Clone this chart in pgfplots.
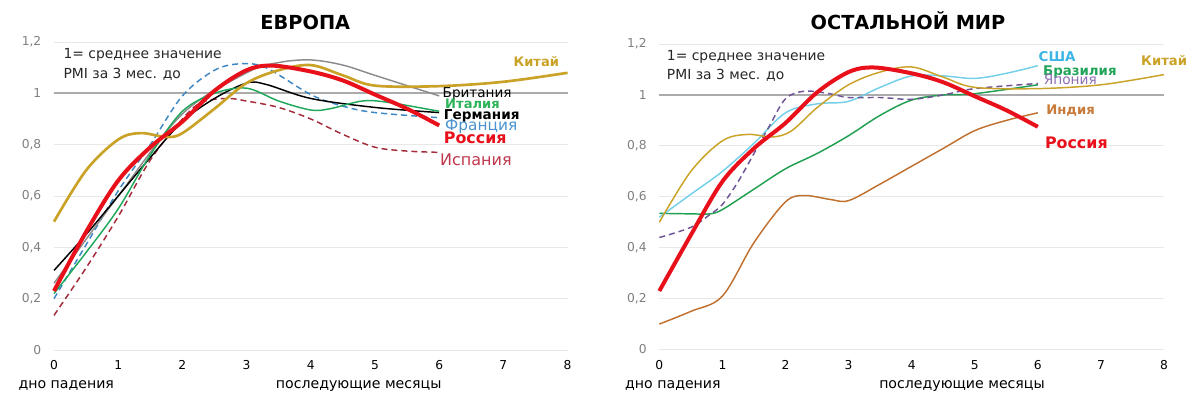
\documentclass[border=0pt]{standalone}
\usepackage{fontspec}
\setmainfont{DejaVu Sans}
\usepackage{pgfplots}
\pgfplotsset{compat=1.18}
\definecolor{gold}{HTML}{C9A227}
\definecolor{brit}{HTML}{8C8C8C}
\definecolor{italyc}{HTML}{1FA85A}
\definecolor{italyl}{HTML}{2DB35A}
\definecolor{francec}{HTML}{3C87C4}
\definecolor{francel}{HTML}{4A93D0}
\definecolor{russ}{HTML}{E8101A}
\definecolor{spainc}{HTML}{A52A3A}
\definecolor{spainl}{HTML}{C0364A}
\definecolor{usac}{HTML}{74CFEA}
\definecolor{usal}{HTML}{3DB5E6}
\definecolor{brazc}{HTML}{20A050}
\definecolor{brazl}{HTML}{22A55A}
\definecolor{japc}{HTML}{6E5496}
\definecolor{japl}{HTML}{8E6DB4}
\definecolor{indc}{HTML}{C0702F}
\definecolor{indl}{HTML}{C77A3A}
\definecolor{gridc}{HTML}{E8E8E8}
\definecolor{onec}{HTML}{ABABAB}
\definecolor{tickgray}{HTML}{7F7F7F}
\newcommand\fs[1]{\fontsize{#1}{#1}\selectfont}
\tikzset{lab/.style={inner sep=0pt, anchor=base west}}
\pgfplotsset{
  pmi/.style={
    scale only axis, anchor=south west, clip=false,
    xmin=0, xmax=8, ymin=0, ymax=1.2,
    axis line style={draw=none}, major tick style={draw=none},
    xtick={0,1,2,3,4,5,6,7,8},
    xticklabels={0,1,2,3,4,5,6,7,8},
    ytick={0,0.2,0.4,0.6,0.8,1,1.2},
    yticklabels={0,{0,2},{0,4},{0,6},{0,8},1,{1,2}},
    /pgf/number format/assume math mode=true,
    ymajorgrids, grid style={draw=gridc, line width=0.6pt},
    tick label style={font=\fs{9.2}},
    yticklabel style={text=tickgray, xshift=-6pt},
    xticklabel style={text=black, yshift=-4.5pt},
  },
  ser/.style={smooth, tension=0.55, no markers, line width=1.1pt},
}
\begin{document}
\begin{tikzpicture}
\useasboundingbox (0pt,0pt) rectangle (900pt,302.25pt);
% ---------------- EUROPE ----------------
\begin{axis}[pmi, at={(40.5pt,39.75pt)}, width=385.2pt, height=231pt]
\addplot[onec, line width=1.5pt] coordinates {(0,1)(8,1)};
% Spain
\addplot[ser, spainc, dash pattern=on 4.5pt off 3pt] coordinates {(0,0.135)(0.5,0.32)(1,0.52)(1.5,0.74)(2,0.9)(2.3,0.965)(2.7,0.98)(3,0.97)(3.5,0.945)(4,0.9)(4.5,0.84)(5,0.79)(5.5,0.775)(6,0.77)};
% France
\addplot[ser, francec, dash pattern=on 4.5pt off 3pt] coordinates {(0,0.2)(0.5,0.41)(1,0.62)(1.5,0.8)(2,0.99)(2.5,1.09)(2.9,1.115)(3.3,1.1)(4,0.995)(4.5,0.95)(5,0.925)(6,0.905)};
% Britain
\addplot[ser, brit] coordinates {(0,0.26)(1,0.6)(2,0.92)(3,1.08)(3.5,1.12)(4,1.13)(4.5,1.11)(5,1.07)(6,0.99)};
% Germany
\addplot[ser, black] coordinates {(0,0.31)(0.5,0.45)(1,0.6)(1.5,0.75)(2,0.89)(2.5,0.98)(3,1.04)(3.3,1.035)(4,0.98)(5,0.945)(6,0.925)};
% Italy
\addplot[ser, italyc] coordinates {(0,0.22)(0.5,0.38)(1,0.55)(1.5,0.76)(2,0.93)(2.5,1.0)(3,1.02)(3.5,0.97)(4,0.935)(4.3,0.94)(4.8,0.97)(5.2,0.965)(6,0.93)};
% China
\addplot[ser, gold, line width=2pt] coordinates {(0,0.5)(0.5,0.7)(1,0.82)(1.35,0.845)(1.75,0.83)(2,0.845)(2.5,0.94)(3,1.04)(3.5,1.09)(4,1.11)(4.5,1.07)(5,1.03)(6,1.028)(7,1.045)(8,1.08)};
% Russia
\addplot[ser, russ, line width=3pt] coordinates {(0,0.23)(0.5,0.46)(1,0.66)(1.5,0.79)(2,0.89)(2.5,1.01)(3,1.09)(3.4,1.108)(4,1.085)(4.5,1.05)(5,0.995)(5.5,0.94)(6,0.875)};
\node[lab, text=black, font=\fs{10.2}] at (6.05,0.984) {Британия};
\node[lab, text=italyl, font=\fs{9.8}\bfseries] at (6.09,0.941) {Италия};
\node[lab, text=black, font=\fs{10.2}\bfseries] at (6.07,0.899) {Германия};
\node[lab, text=francel, font=\fs{11.5}] at (6.09,0.854) {Франция};
\node[lab, text=russ, font=\fs{11.9}\bfseries] at (6.07,0.805) {Россия};
\node[lab, text=spainl, font=\fs{12}] at (6.01,0.72) {Испания};
\node[lab, anchor=base east, text=gold, font=\fs{9.8}\bfseries] at (7.87,1.106) {Китай};
\node[lab, text=black!85, font=\fs{10.4}] at (0.145,1.134) {1= среднее значение};
\node[lab, text=black!85, font=\fs{10.4}] at (0.145,1.058) {PMI за 3 мес. до};
\end{axis}
% ---------------- REST OF WORLD ----------------
\begin{axis}[pmi, at={(494.5pt,40.1pt)}, width=378.5pt, height=229.1pt]
\addplot[onec, line width=1.5pt] coordinates {(0,1)(8,1)};
% India
\addplot[ser, indc] coordinates {(0,0.10)(0.5,0.15)(1,0.21)(1.5,0.42)(2,0.58)(2.3,0.605)(2.7,0.59)(3,0.585)(3.5,0.65)(4,0.72)(4.5,0.79)(5,0.86)(5.5,0.9)(6,0.93)};
% Brazil
\addplot[ser, brazc] coordinates {(0,0.535)(0.5,0.533)(0.8,0.533)(1,0.55)(1.5,0.63)(2,0.71)(2.5,0.77)(3,0.84)(3.5,0.92)(4,0.98)(4.5,1.0)(5,1.005)(6,1.04)};
% USA
\addplot[ser, usac] coordinates {(0,0.52)(0.5,0.61)(1,0.70)(1.5,0.81)(2,0.93)(2.5,0.965)(3,0.975)(3.5,1.03)(4,1.075)(4.5,1.075)(5,1.065)(5.5,1.085)(6,1.115)};
% Japan
\addplot[ser, japc, dash pattern=on 4.5pt off 3pt] coordinates {(0,0.44)(0.5,0.48)(0.8,0.53)(1,0.57)(1.25,0.66)(1.5,0.77)(1.75,0.88)(2,0.985)(2.3,1.015)(2.7,1.005)(3,0.99)(3.5,0.99)(4,0.983)(4.5,1.0)(5,1.025)(6,1.045)};
% China
\addplot[ser, gold] coordinates {(0,0.5)(0.5,0.7)(1,0.82)(1.4,0.845)(1.8,0.835)(2.1,0.86)(2.5,0.95)(3,1.04)(3.5,1.09)(4,1.11)(4.5,1.07)(5,1.03)(6,1.025)(7,1.04)(8,1.08)};
% Russia
\addplot[ser, russ, line width=3pt] coordinates {(0,0.23)(0.5,0.45)(1,0.66)(1.5,0.79)(2,0.89)(2.5,1.01)(3,1.09)(3.4,1.108)(4,1.085)(4.5,1.05)(5,0.995)(5.5,0.94)(6,0.875)};
\node[lab, text=usal, font=\fs{10.1}\bfseries] at (6.01,1.131) {США};
\node[lab, text=brazl, font=\fs{10}\bfseries] at (6.08,1.075) {Бразилия};
\node[lab, text=japl, font=\fs{10.3}] at (6.09,1.042) {Япония};
\node[lab, anchor=base east, text=gold, font=\fs{9.9}\bfseries] at (8.37,1.115) {Китай};
\node[lab, text=indl, font=\fs{9.9}\bfseries] at (6.13,0.925) {Индия};
\node[lab, text=russ, font=\fs{11.9}\bfseries] at (6.11,0.79) {Россия};
\node[lab, text=black!85, font=\fs{10.4}] at (0.117,1.135) {1= среднее значение};
\node[lab, text=black!85, font=\fs{10.4}] at (0.117,1.062) {PMI за 3 мес. до};
\end{axis}
% titles and axis labels
\node[inner sep=0pt, anchor=base, font=\fs{14.5}\bfseries] at (229pt,280.3pt) {ЕВРОПА};
\node[inner sep=0pt, anchor=base, font=\fs{14.5}\bfseries] at (681pt,280.3pt) {ОСТАЛЬНОЙ МИР};
\node[inner sep=0pt, anchor=base west, font=\fs{10.6}] at (13.7pt,10.5pt) {дно падения};
\node[inner sep=0pt, anchor=base, font=\fs{10.6}] at (269pt,10.5pt) {последующие месяцы};
\node[inner sep=0pt, anchor=base west, font=\fs{10.6}] at (468.7pt,10.5pt) {дно падения};
\node[inner sep=0pt, anchor=base, font=\fs{10.6}] at (721.5pt,10.5pt) {последующие месяцы};
\end{tikzpicture}
\end{document}
